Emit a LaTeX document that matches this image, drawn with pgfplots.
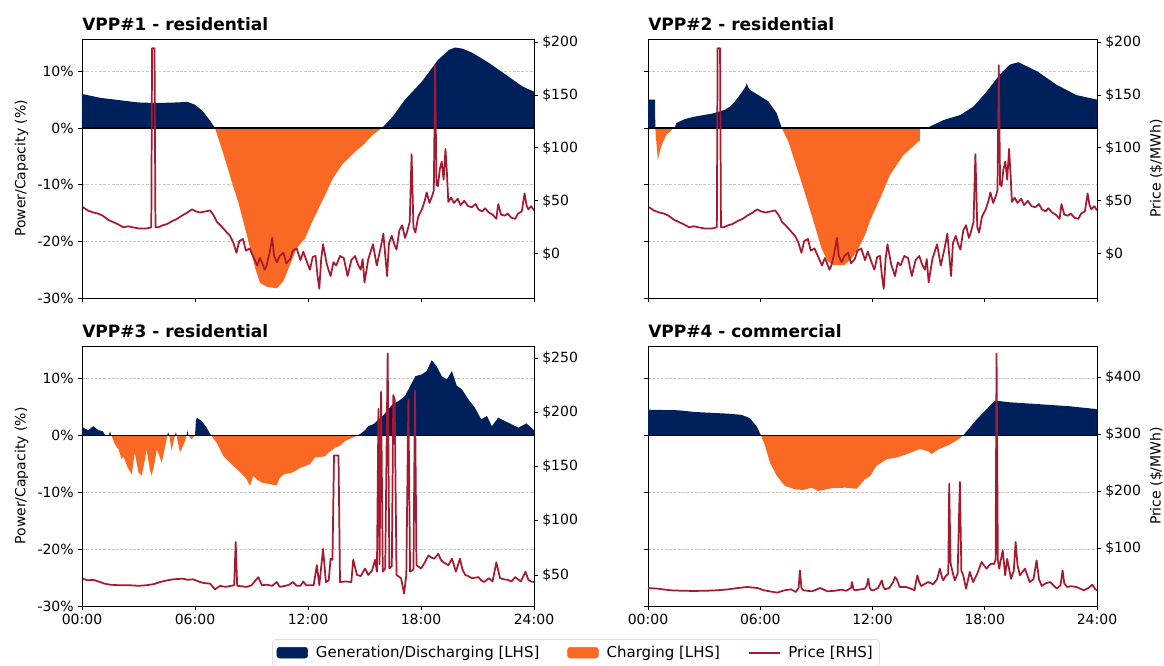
\documentclass[border=0pt]{standalone}
\usepackage{fontspec}
\setmainfont{DejaVu Sans}
\usepackage{pgfplots}
\usepackage{pgfplotstable}
\pgfplotsset{compat=1.18}
\definecolor{navyc}{RGB}{0,32,91}
\definecolor{orangec}{RGB}{250,105,35}
\definecolor{pricec}{RGB}{166,25,46}

\pgfplotstableread[row sep=\\]{
t p\\
0 6.0\\ 1 5.3\\ 2 4.9\\ 3 4.5\\ 4 4.4\\ 5 4.5\\ 5.6 4.6\\ 6.0 4.1\\ 6.4 3.0\\ 6.8 1.3\\ 7.06 0\\
7.5 -4.5\\ 8.0 -10\\ 8.3 -13.1\\ 8.8 -19.5\\ 9.2 -24.8\\ 9.45 -27.3\\ 9.8 -28.0\\ 10.35 -28.3\\ 10.7 -27\\
11.0 -24.5\\ 11.4 -21.2\\ 11.84 -19.5\\ 12.3 -16\\ 12.9 -11.9\\ 13.3 -9\\ 13.8 -6.5\\ 14.5 -4.2\\ 15.0 -2.8\\
15.4 -1.3\\ 15.93 0\\ 16.5 2.0\\ 17.15 5.0\\ 18.05 8.2\\ 18.9 12.0\\ 19.5 13.8\\ 19.8 14.2\\ 20.2 14.0\\
20.7 13.3\\ 21.6 11.5\\ 22.5 9.4\\ 23.4 7.3\\ 24 6.4\\
}\pwA

\pgfplotstableread[row sep=\\]{
t p\\
0 5.0\\ 0.38 5.0\\ 0.39 0\\ 0.42 -1.5\\ 0.53 -5.7\\ 0.6 -4.5\\ 0.73 -3.0\\ 0.98 -1.2\\ 1.2 -0.6\\ 1.35 0\\
1.44 0\\ 1.5 0.8\\ 1.6 1.0\\ 2.0 1.6\\ 2.5 2.0\\ 3.0 2.3\\ 3.4 2.5\\ 4.1 3.2\\ 4.4 3.8\\ 4.65 4.7\\ 4.9 5.8\\
5.1 6.7\\ 5.2 7.2\\ 5.27 7.9\\ 5.35 7.2\\ 5.45 6.7\\ 5.9 5.8\\ 6.43 4.7\\ 6.88 2.6\\ 7.15 0\\ 7.5 -2.4\\
8.2 -9.5\\ 8.75 -15.4\\ 9.28 -21.3\\ 9.6 -23.5\\ 9.9 -24.2\\ 10.5 -24.2\\ 10.9 -23.0\\ 11.24 -21.3\\
11.6 -18.9\\ 11.87 -16.3\\ 12.4 -12.5\\ 12.93 -8.3\\ 13.65 -4.8\\ 14.45 -2.4\\ 14.53 -2.3\\ 14.55 0\\
14.9 0\\ 15.8 1.4\\ 16.7 2.3\\ 17.4 3.8\\ 18.1 6.4\\ 18.8 9.4\\ 19.35 11.2\\ 19.8 11.6\\ 20.8 10.0\\
21.85 7.6\\ 22.9 5.8\\ 24 5.0\\
}\pwB

\pgfplotstableread[row sep=\\]{
t p\\
0 1.2\\ 0.07 1.35\\ 0.33 0.9\\ 0.6 1.6\\ 0.87 0.9\\ 1.1 0.75\\ 1.2 0.2\\ 1.25 0\\ 1.42 0\\ 1.49 0.7\\
1.55 0\\ 1.62 -0.5\\ 1.75 -1.6\\ 1.95 -2.5\\ 2.1 -4.2\\ 2.2 -3.7\\ 2.4 -5.5\\ 2.64 -6.9\\ 2.8 -3.0\\
3.0 -6.5\\ 3.17 -7.1\\ 3.3 -5\\ 3.43 -2.5\\ 3.6 -6\\ 3.7 -7.1\\ 3.85 -5\\ 3.97 -2.5\\ 4.1 -3.5\\
4.23 -4.8\\ 4.35 -3\\ 4.46 -1.3\\ 4.52 0\\ 4.58 0.5\\ 4.63 0\\ 4.76 -2.7\\ 4.9 -0.5\\ 4.99 0.6\\
5.05 -0.5\\ 5.2 -3.0\\ 5.35 -2.0\\ 5.47 -1.0\\ 5.55 0\\ 5.6 0.8\\ 5.65 0\\ 5.82 -0.7\\ 6.0 0\\
6.05 2.5\\ 6.09 3.1\\ 6.36 2.5\\ 6.62 1.35\\ 6.85 0\\ 7.15 -1.3\\ 7.5 -3.6\\ 8.04 -5.4\\ 8.4 -6.5\\
8.7 -7.5\\ 8.92 -8.9\\ 9.1 -7.1\\ 9.3 -7.8\\ 9.54 -8.3\\ 9.98 -8.6\\ 10.34 -8.8\\ 10.5 -7.5\\
10.7 -6.9\\ 11.2 -6.5\\ 11.58 -5.7\\ 11.84 -5.4\\ 12.1 -5.1\\ 12.37 -3.9\\ 12.9 -3.7\\ 13.1 -3.0\\
13.44 -2.2\\ 13.7 -1.8\\ 13.97 -1.0\\ 14.5 -0.2\\ 14.67 0\\ 15.0 0.8\\ 15.2 1.6\\ 15.5 2.0\\
15.74 2.8\\ 16.0 3.5\\ 16.27 4.6\\ 16.5 5.5\\ 16.8 6.0\\ 17.15 6.9\\ 17.4 8.5\\ 17.7 10.4\\
18.04 10.7\\ 18.3 11.3\\ 18.57 13.2\\ 18.84 12.1\\ 19.1 10.4\\ 19.37 9.8\\ 19.64 11.3\\ 19.9 8.7\\
20.17 8.1\\ 20.5 6.4\\ 20.87 4.8\\ 21.2 2.8\\ 21.5 3.4\\ 21.76 1.6\\ 22.1 3.1\\ 22.64 2.2\\
23.17 1.35\\ 23.6 2.1\\ 24 0.9\\
}\pwC

\pgfplotstableread[row sep=\\]{
t p\\
0 4.5\\ 1.62 4.4\\ 2.5 4.1\\ 3.4 3.95\\ 4.3 3.8\\ 5.0 3.6\\ 5.45 3.0\\ 5.8 1.6\\ 6.04 0\\ 6.25 -1.8\\
6.52 -4.8\\ 6.88 -7.1\\ 7.32 -8.9\\ 7.86 -9.5\\ 8.3 -9.6\\ 8.75 -9.2\\ 9.1 -9.8\\ 9.5 -9.5\\ 9.82 -9.3\\
10.53 -9.2\\ 11.15 -9.4\\ 11.6 -7.7\\ 11.87 -7.2\\ 12.2 -5.4\\ 12.76 -4.2\\ 13.3 -3.9\\ 13.83 -3.3\\
14.54 -2.4\\ 14.98 -2.8\\ 15.16 -3.3\\ 15.5 -2.5\\ 16.14 -1.6\\ 16.59 -0.7\\ 16.85 0\\ 17.57 2.8\\
18.1 4.6\\ 18.55 6.1\\ 19.35 5.8\\ 20.77 5.5\\ 22.55 5.1\\ 24 4.6\\
}\pwD

\pgfplotstableread[row sep=\\]{
t v\\
0.05 44\\ 0.3 41\\ 0.6 39\\ 0.85 38\\ 1.1 36\\ 1.4 32\\ 1.65 30\\ 1.9 28\\ 2.2 25\\ 2.45 26\\ 2.7 25\\
3.0 24\\ 3.45 24\\ 3.68 25\\ 3.72 194\\ 3.85 194\\ 3.9 25\\ 4.04 25\\ 4.3 27\\ 4.5 28\\ 4.8 31\\ 5.05 33\\
5.3 36\\ 5.6 39\\ 5.84 42\\ 6.05 40\\ 6.27 39\\ 6.55 40\\ 6.8 41\\ 7.0 36\\ 7.17 30\\ 7.35 27\\ 7.5 24\\
7.7 20\\ 7.86 17\\ 8.05 10\\ 8.2 1\\ 8.35 12\\ 8.55 14\\ 8.7 3\\ 8.9 5\\ 9.1 -3\\ 9.3 -11\\ 9.45 -4\\
9.55 -8\\ 9.7 -15\\ 9.8 -11\\ 9.95 0\\ 10.1 15\\ 10.2 -2\\ 10.35 -8\\ 10.5 -2\\ 10.7 1\\ 10.85 -9\\
11.05 -5\\ 11.2 3\\ 11.4 5\\ 11.6 -6\\ 11.75 2\\ 11.95 -8\\ 12.1 -15\\ 12.25 -3\\ 12.4 -2\\ 12.5 -20\\
12.6 -33\\ 12.7 -5\\ 12.8 9\\ 13.0 -10\\ 13.2 -21\\ 13.35 -8\\ 13.5 -11\\ 13.7 -2\\ 13.9 -4\\ 14.1 -21\\
14.3 -6\\ 14.5 -2\\ 14.65 -10\\ 14.8 -15\\ 14.9 -5\\ 15.0 -27\\ 15.2 -5\\ 15.45 9\\ 15.65 -11\\ 15.85 5\\
16.0 19\\ 16.2 -21\\ 16.3 10\\ 16.45 17\\ 16.6 8\\ 16.7 4\\ 16.85 22\\ 17.0 27\\ 17.15 15\\ 17.25 20\\
17.4 30\\ 17.5 94\\ 17.6 25\\ 17.7 20\\ 17.85 35\\ 18.05 42\\ 18.2 50\\ 18.3 58\\ 18.45 48\\ 18.6 55\\
18.68 60\\ 18.75 178\\ 18.82 65\\ 18.9 64\\ 19.0 80\\ 19.1 87\\ 19.2 70\\ 19.3 99\\ 19.38 75\\ 19.45 49\\
19.6 53\\ 19.75 48\\ 19.95 52\\ 20.1 46\\ 20.3 50\\ 20.5 45\\ 20.7 44\\ 20.9 47\\ 21.05 42\\ 21.25 40\\
21.4 43\\ 21.6 39\\ 21.8 37\\ 22.0 33\\ 22.1 47\\ 22.25 37\\ 22.45 36\\ 22.6 38\\ 22.8 34\\ 23.0 33\\
23.15 38\\ 23.35 40\\ 23.5 57\\ 23.6 46\\ 23.7 42\\ 23.85 45\\ 24 41\\
}\prA

\pgfplotstableread[row sep=\\]{
t v\\
0.05 46.6\\ 0.3 45\\ 0.6 45.5\\ 0.95 43.5\\ 1.2 42\\ 1.5 41\\ 2.0 40.5\\ 2.55 40.5\\ 3.0 40\\ 3.4 40.5\\
3.8 41.5\\ 4.15 43.5\\ 4.5 45\\ 4.85 46\\ 5.37 46.6\\ 5.6 45.5\\ 5.9 46\\ 6.27 43.5\\ 6.5 42.5\\ 6.8 42\\
7.06 36.8\\ 7.33 40\\ 7.6 39\\ 7.86 39.8\\ 8.08 40.5\\ 8.16 80.4\\ 8.24 40\\ 8.5 39.5\\ 8.74 39\\ 9.0 40.5\\
9.36 48\\ 9.55 40.5\\ 9.8 41\\ 10.1 40\\ 10.34 43.5\\ 10.5 39\\ 10.8 40\\ 11.0 41\\ 11.2 43.5\\ 11.4 40\\
11.6 40\\ 11.75 44\\ 11.9 40.5\\ 12.1 40.5\\ 12.3 40.5\\ 12.47 59\\ 12.6 40.5\\ 12.8 74\\ 12.95 43.5\\
13.1 45\\ 13.2 65\\ 13.3 64\\ 13.38 160\\ 13.62 160\\ 13.7 43.5\\ 14.0 44\\ 14.3 43.5\\ 14.4 64\\ 14.6 50\\
14.8 49\\ 15.03 56\\ 15.2 50\\ 15.4 54\\ 15.56 64\\ 15.66 53\\ 15.74 203\\ 15.8 60\\ 15.88 218.7\\ 15.97 53\\
16.1 56\\ 16.23 254\\ 16.32 56\\ 16.45 58\\ 16.53 215.6\\ 16.6 212\\ 16.7 50\\ 16.94 47\\ 17.1 32.8\\
17.22 50\\ 17.33 211\\ 17.42 53\\ 17.6 55\\ 17.68 220\\ 17.76 59\\ 18.0 56\\ 18.15 60\\ 18.4 68\\ 18.55 66\\
18.7 65\\ 18.92 69.5\\ 19.05 64\\ 19.2 61.6\\ 19.45 59\\ 19.65 65\\ 19.85 53\\ 20.07 65\\ 20.2 55\\
20.35 50\\ 20.5 49\\ 20.7 47\\ 21.05 48\\ 21.2 45\\ 21.35 43.5\\ 21.6 47\\ 21.8 44\\ 22.0 61.6\\ 22.2 47\\
22.4 46\\ 22.6 45.5\\ 22.8 44\\ 23.0 48\\ 23.3 44\\ 23.55 53\\ 23.7 45.5\\ 23.85 44\\ 24 43.5\\
}\prC

\pgfplotstableread[row sep=\\]{
t v\\
0 29.8\\ 0.5 28.7\\ 1.2 25.8\\ 1.8 25\\ 2.45 24.6\\ 3.1 25\\ 3.7 25.8\\ 4.3 27.5\\ 4.8 29.8\\ 5.3 31.6\\
5.85 29.8\\ 6.2 25.8\\ 6.5 24\\ 6.9 21.7\\ 7.3 25.8\\ 7.65 27.5\\ 7.9 22.8\\ 8.05 30\\ 8.12 60.8\\ 8.2 30\\
8.3 25.8\\ 8.75 24\\ 9.0 27\\ 9.2 29.8\\ 9.6 24\\ 10.0 25\\ 10.3 26.9\\ 10.6 25\\ 10.85 30\\ 10.9 40.3\\
10.98 28\\ 11.06 25.8\\ 11.3 27\\ 11.6 28.7\\ 11.7 35\\ 11.77 46\\ 11.85 30\\ 11.95 25.8\\ 12.05 25.8\\
12.3 30\\ 12.45 40\\ 12.5 43.2\\ 12.58 32\\ 12.66 27.5\\ 12.9 30\\ 13.1 40\\ 13.2 49\\ 13.3 45\\ 13.45 31.6\\
13.8 31.6\\ 14.1 28\\ 14.25 25.8\\ 14.32 40\\ 14.4 52\\ 14.5 40\\ 14.6 33.3\\ 14.97 40.3\\ 15.24 36.3\\
15.45 45\\ 15.6 63.7\\ 15.7 50\\ 15.78 43.2\\ 15.9 50\\ 16.05 55\\ 16.1 212.8\\ 16.17 75\\ 16.2 69\\
16.3 55\\ 16.4 43.2\\ 16.55 55\\ 16.67 215.8\\ 16.75 60\\ 16.85 52\\ 17.0 28.7\\ 17.2 58\\ 17.38 40.3\\
17.6 55\\ 17.83 75.4\\ 17.95 70\\ 18.1 63.7\\ 18.25 70\\ 18.35 72.5\\ 18.5 72\\ 18.58 80\\ 18.63 441\\
18.7 80\\ 18.77 63.7\\ 18.96 96\\ 19.09 52\\ 19.2 81\\ 19.4 46\\ 19.55 60\\ 19.65 110.5\\ 19.75 70\\
19.88 52\\ 20.15 63.7\\ 20.4 40.3\\ 20.6 45\\ 20.77 78.4\\ 20.9 45\\ 21.05 33.3\\ 21.25 38\\ 21.5 40.3\\
21.85 28.7\\ 22.05 35\\ 22.16 60.8\\ 22.25 38\\ 22.4 31.6\\ 22.6 33\\ 22.9 31.6\\ 23.3 25.8\\ 23.55 30\\
23.75 35.7\\ 23.9 28\\ 24 25.8\\
}\prD

\pgfplotsset{
  base/.style={scale only axis, xmin=0, xmax=24,
    tick align=outside, major tick length=2.7pt,
    tick style={black, line width=0.6pt},
    axis line style={black, line width=0.6pt},
    every tick label/.append style={font=\fontsize{10.5}{12}\selectfont},
    label style={font=\fontsize{10.5}{12}\selectfont}},
  pw/.style={base, ymin=-30, ymax=15.7,
    ytick={-30,-20,-10,0,10},
    yticklabels={-30\%,-20\%,-10\%,0\%,10\%},
    xtick={0,6,12,18,24},
    xticklabels={00:00,06:00,12:00,18:00,24:00},
    xtick pos=bottom, ytick pos=left,
    ymajorgrids, grid style={gray!45, line width=0.5pt, dash pattern=on 2pt off 1.2pt},
    title style={at={(rel axis cs:0,1)}, anchor=base west, inner sep=0pt, yshift=0pt,
      font=\fontsize{12.75}{14}\selectfont\bfseries}},
  pr/.style={base, axis y line*=right, axis x line=none},
  pos/.style={draw=none, fill=navyc, forget plot},
  neg/.style={draw=none, fill=orangec, forget plot},
  price/.style={pricec, line width=1.3pt, line join=round, forget plot},
}

\begin{document}
\begin{tikzpicture}
\path[use as bounding box] (0pt,0pt) rectangle (873pt,499.5pt);

% ---------------- Panel 1
\begin{axis}[pw, at={(61.5pt,276pt)}, anchor=south west, width=339pt, height=194.25pt,
  xticklabels={}, ylabel={Power/Capacity (\%)}, title={VPP\#1 - residential}]
\begin{scope}\clip (axis cs:0,0) rectangle (axis cs:24,20);
\addplot[pos] table[x=t,y=p]{\pwA} \closedcycle;
\end{scope}
\begin{scope}\clip (axis cs:0,-40) rectangle (axis cs:24,0);
\addplot[neg] table[x=t,y=p]{\pwA} \closedcycle;
\end{scope}
\addplot[black, line width=0.8pt, forget plot] coordinates {(0,0) (24,0)};
\end{axis}
\begin{axis}[pr, at={(61.5pt,276pt)}, anchor=south west, width=339pt, height=194.25pt,
  ymin=-41.7, ymax=202.8, ytick={0,50,100,150,200},
  yticklabels={\$0,\$50,\$100,\$150,\$200}]
\addplot[price] table[x=t,y=v]{\prA};
\end{axis}

% ---------------- Panel 2
\begin{axis}[pw, at={(486pt,276pt)}, anchor=south west, width=336.75pt, height=194.25pt,
  xticklabels={}, yticklabels={}, title={VPP\#2 - residential}]
\begin{scope}\clip (axis cs:0,0) rectangle (axis cs:24,20);
\addplot[pos] table[x=t,y=p]{\pwB} \closedcycle;
\end{scope}
\begin{scope}\clip (axis cs:0,-40) rectangle (axis cs:24,0);
\addplot[neg] table[x=t,y=p]{\pwB} \closedcycle;
\end{scope}
\addplot[black, line width=0.8pt, forget plot] coordinates {(0,0) (24,0)};
\end{axis}
\begin{axis}[pr, at={(486pt,276pt)}, anchor=south west, width=336.75pt, height=194.25pt,
  ymin=-41.7, ymax=202.8, ytick={0,50,100,150,200},
  yticklabels={\$0,\$50,\$100,\$150,\$200}, ylabel={Price (\$/MWh)}]
\addplot[price] table[x=t,y=v]{\prA};
\end{axis}

% ---------------- Panel 3
\begin{axis}[pw, at={(61.5pt,45pt)}, anchor=south west, width=339pt, height=195pt,
  ylabel={Power/Capacity (\%)}, title={VPP\#3 - residential},
  legend columns=3,
  legend style={at={(rel axis cs:1.093,-0.128)}, anchor=north, draw=gray!35, rounded corners=2pt,
    font=\fontsize{11.25}{13}\selectfont, inner xsep=3pt, inner ysep=3pt,
    /tikz/every odd column/.append style={column sep=4pt},
    /tikz/every even column/.append style={column sep=19pt}},
  legend cell align=left]
\addlegendimage{legend image code/.code={\fill[navyc] (0pt,-3.9pt) rectangle (23pt,4.2pt);}}
\addlegendentry{Generation/Discharging [LHS]}
\addlegendimage{legend image code/.code={\fill[orangec] (0pt,-3.9pt) rectangle (23pt,4.2pt);}}
\addlegendentry{Charging [LHS]}
\addlegendimage{legend image code/.code={\draw[pricec, line width=1.3pt] (0pt,0.2pt) -- (23pt,0.2pt);}}
\addlegendentry{Price [RHS]}
\begin{scope}\clip (axis cs:0,0) rectangle (axis cs:24,20);
\addplot[pos] table[x=t,y=p]{\pwC} \closedcycle;
\end{scope}
\begin{scope}\clip (axis cs:0,-40) rectangle (axis cs:24,0);
\addplot[neg] table[x=t,y=p]{\pwC} \closedcycle;
\end{scope}
\addplot[black, line width=0.8pt, forget plot] coordinates {(0,0) (24,0)};
\end{axis}
\begin{axis}[pr, at={(61.5pt,45pt)}, anchor=south west, width=339pt, height=195pt,
  ymin=21.4, ymax=261, ytick={50,100,150,200,250},
  yticklabels={\$50,\$100,\$150,\$200,\$250}]
\addplot[price] table[x=t,y=v]{\prC};
\end{axis}

% ---------------- Panel 4
\begin{axis}[pw, at={(486pt,45pt)}, anchor=south west, width=336.75pt, height=195pt,
  yticklabels={}, title={VPP\#4 - commercial}]
\begin{scope}\clip (axis cs:0,0) rectangle (axis cs:24,20);
\addplot[pos] table[x=t,y=p]{\pwD} \closedcycle;
\end{scope}
\begin{scope}\clip (axis cs:0,-40) rectangle (axis cs:24,0);
\addplot[neg] table[x=t,y=p]{\pwD} \closedcycle;
\end{scope}
\addplot[black, line width=0.8pt, forget plot] coordinates {(0,0) (24,0)};
\end{axis}
\begin{axis}[pr, at={(486pt,45pt)}, anchor=south west, width=336.75pt, height=195pt,
  ymin=-1.75, ymax=454.4, ytick={100,200,300,400},
  yticklabels={\$100,\$200,\$300,\$400}, ylabel={Price (\$/MWh)}]
\addplot[price] table[x=t,y=v]{\prD};
\end{axis}
\end{tikzpicture}
\end{document}
